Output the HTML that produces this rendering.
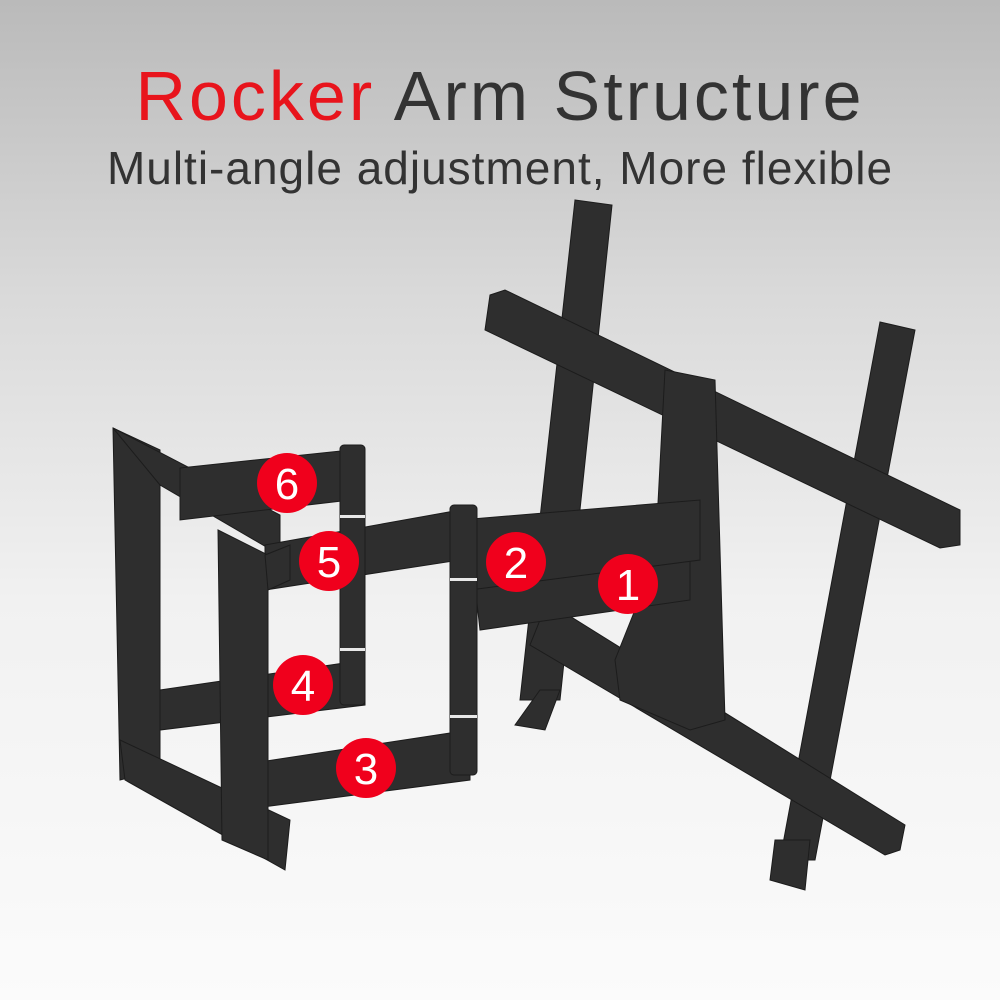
<!DOCTYPE html>
<html><head><style>
html,body{margin:0;padding:0}
body{width:1000px;height:1000px;overflow:hidden;background:linear-gradient(#bababa 0%,#dadada 30%,#f1f1f1 60%,#fbfbfb 100%);position:relative;font-family:"Liberation Sans",sans-serif}
.t{position:absolute;left:0;width:1000px;text-align:center;color:#333;white-space:nowrap}
</style></head><body>
<div class="t" style="top:56px;font-size:70px;letter-spacing:3px"><span style="color:#e8141c">Rocker</span> Arm Structure</div>
<div class="t" style="top:141px;font-size:46px;letter-spacing:1px">Multi-angle adjustment, More flexible</div>
<svg width="1000" height="1000" style="position:absolute;left:0;top:0">
<g fill="#2e2e2e" stroke="#1c1c1c" stroke-width="1">
<polygon points="575,200 612,205 560,700 520,700"/>
<polygon points="880,322 915,330 815,860 780,860"/>
<polygon points="540,690 560,690 545,730 515,725"/>
<polygon points="775,840 810,840 805,890 770,880"/>
<polygon points="490,295 505,290 960,510 960,545 940,548 485,330"/>
<polygon points="540,620 560,610 905,825 900,850 885,855 530,645"/>
<polygon points="665,370 715,380 725,720 690,730 620,700 615,660 655,560"/>
<polygon points="470,540 690,550 690,600 480,630"/>
<polygon points="460,520 700,500 700,560 470,590"/>
<polygon points="113,428 160,450 160,770 120,780"/>
<polygon points="113,428 280,515 280,555 160,485"/>
<polygon points="120,740 290,820 285,870 125,780"/>
<polygon points="180,468 350,450 350,500 180,520"/>
<polygon points="265,545 460,510 460,560 265,590"/>
<polygon points="160,690 365,660 365,705 160,730"/>
<polygon points="240,765 470,730 470,780 240,810"/>
<rect x="340" y="445" width="25" height="260" rx="4"/>
<rect x="450" y="505" width="27" height="270" rx="4"/>
<polygon points="218,530 268,555 268,860 222,840"/>
<polygon points="265,555 290,545 290,580 268,590"/>
</g>
<g fill="#e8e8e8">
<rect x="340" y="515" width="25" height="3"/><rect x="340" y="648" width="25" height="3"/>
<rect x="450" y="578" width="27" height="3"/><rect x="450" y="715" width="27" height="3"/>
</g>
<g fill="#f0001c">
<circle cx="287" cy="483" r="30"/><circle cx="329" cy="561" r="30"/>
<circle cx="516" cy="562" r="30"/><circle cx="628" cy="584" r="30"/>
<circle cx="303" cy="685" r="30"/><circle cx="366" cy="768" r="30"/>
</g>
<g fill="#fff" font-family="Liberation Sans,sans-serif" font-size="44" text-anchor="middle">
<text x="287" y="499">6</text><text x="329" y="577">5</text>
<text x="516" y="578">2</text><text x="628" y="600">1</text>
<text x="303" y="701">4</text><text x="366" y="784">3</text>
</g>
</svg>
</body></html>
